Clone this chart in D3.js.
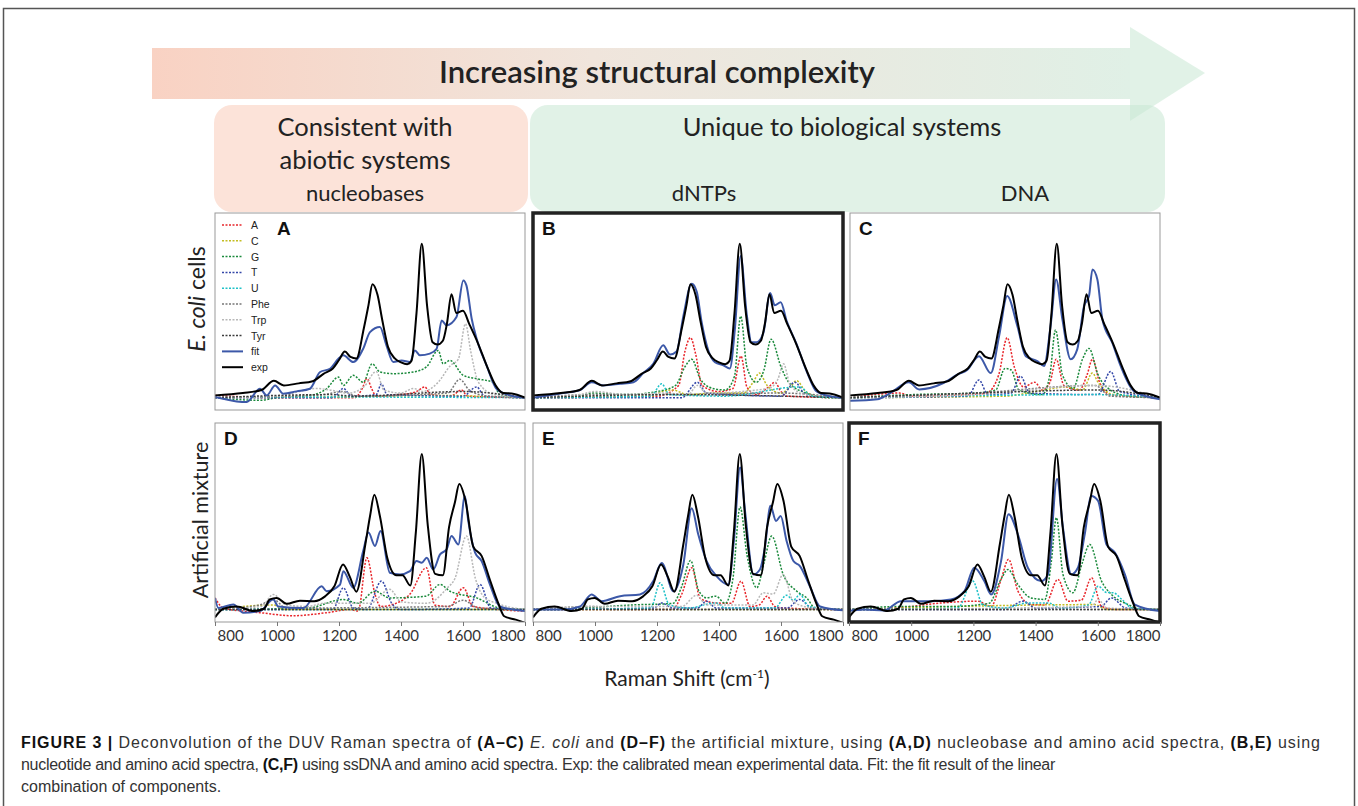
<!DOCTYPE html>
<html>
<head>
<meta charset="utf-8">
<script src="https://cdnjs.cloudflare.com/ajax/libs/d3/7.8.5/d3.min.js"></script>
<style>
  body { margin: 0; background: #fff; }
  svg { display: block; }
</style>
</head>
<body>
<div id="chart"></div>
<script>
// Raman shift ticks and component names
var shiftTicks = [800, 1000, 1200, 1400, 1600, 1800];
var components = ["A", "C", "G", "T", "U", "Phe", "Trp", "Tyr"];
var compColors = ["#e8262b", "#c4bd22", "#1b8a3c", "#3447a8", "#1fc1c8", "#777777", "#b8b8b8", "#3d3d3d"];

// experimental spectra (same data in each row)
var expEcoli = [[800,.015],[890,.03],[950,.05],[990,.11],[1022,.08],[1070,.093],[1115,.107],[1150,.155],[1180,.19],[1200,.245],[1219,.30],[1237,.265],[1256,.255],[1280,.45],[1295,.6],[1308,.737],[1324,.67],[1340,.5],[1358,.33],[1380,.255],[1400,.23],[1420,.218],[1434,.24],[1450,.55],[1467,1.0],[1484,.6],[1502,.36],[1518,.345],[1535,.37],[1548,.48],[1563,.672],[1578,.55],[1600,.565],[1620,.48],[1648,.355],[1680,.19],[1705,.08],[1730,.03],[1757,.028],[1800,0]];
var expMixture = [[800,-.05],[827,.005],[870,.02],[924,-.01],[958,.005],[977,.065],[999,.075],[1031,.037],[1074,.057],[1120,.054],[1155,.085],[1185,.15],[1213,.29],[1235,.21],[1256,.115],[1285,.42],[1300,.6],[1314,.738],[1332,.6],[1356,.33],[1385,.22],[1405,.22],[1430,.155],[1448,.5],[1467,1.0],[1486,.55],[1510,.23],[1535,.22],[1555,.53],[1574,.69],[1588,.808],[1608,.7],[1633,.405],[1660,.345],[1687,.19],[1714,.04],[1733,-.043],[1770,-.065],[1800,-.085]];

// fit results
var fitA = [[800,.004],[870,-.024],[902,-.028],[945,.058],[967,.015],[994,.08],[1020,.026],[1063,.041],[1106,.058],[1139,.167],[1171,.188],[1198,.253],[1214,.275],[1246,.232],[1278,.318],[1300,.426],[1332,.459],[1353,.34],[1375,.232],[1402,.242],[1429,.232],[1445,.307],[1461,.275],[1493,.286],[1515,.318],[1531,.502],[1547,.47],[1579,.524],[1601,.762],[1611,.73],[1628,.513],[1644,.383],[1676,.21],[1708,.058],[1751,.015],[1800,0]];
var fitB = [[800,0],[898,.03],[952,.05],[989,.1],[1027,.08],[1081,.09],[1124,.1],[1156,.16],[1188,.22],[1220,.34],[1242,.28],[1263,.3],[1285,.53],[1312,.74],[1328,.69],[1344,.49],[1365,.31],[1387,.23],[1414,.21],[1435,.19],[1451,.44],[1470,.92],[1489,.55],[1505,.36],[1521,.36],[1543,.42],[1565,.68],[1580,.6],[1599,.62],[1618,.5],[1650,.35],[1683,.17],[1715,.04],[1758,.01],[1796,0]];
var fitC = [[800,-.02],[888,-.01],[931,.032],[990,.1],[1023,.054],[1103,.097],[1146,.15],[1178,.18],[1216,.27],[1254,.16],[1281,.4],[1307,.66],[1340,.465],[1367,.27],[1404,.238],[1426,.206],[1447,.465],[1465,.768],[1485,.51],[1512,.25],[1533,.314],[1555,.595],[1571,.66],[1582,.833],[1598,.768],[1614,.51],[1646,.357],[1673,.206],[1716,.043],[1800,-.01]];
var fitD = [[800,.075],[811,.01],[859,.032],[891,-.02],[945,-.01],[988,.065],[1004,.02],[1085,.01],[1144,.15],[1160,.118],[1203,.16],[1214,.247],[1246,.14],[1278,.376],[1295,.495],[1316,.409],[1334,.505],[1364,.237],[1397,.226],[1429,.247],[1450,.312],[1467,.301],[1483,.333],[1504,.258],[1526,.355],[1547,.387],[1563,.473],[1585,.419],[1606,.731],[1617,.57],[1639,.366],[1660,.312],[1687,.161],[1719,.02],[1800,-.01]];
var fitE = [[800,0],[898,0],[952,.02],[989,.097],[1021,.054],[1081,.086],[1145,.097],[1188,.183],[1215,.3],[1253,.118],[1285,.29],[1312,.652],[1333,.484],[1360,.312],[1392,.215],[1430,.161],[1448,.441],[1468,.914],[1484,.634],[1511,.226],[1532,.258],[1548,.398],[1566,.667],[1584,.57],[1599,.602],[1618,.441],[1640,.312],[1661,.28],[1693,.15],[1726,.02],[1800,-.005]];
var fitF = [[800,-.01],[848,0],[913,-.006],[967,.054],[999,.054],[1063,.054],[1128,.065],[1171,.118],[1203,.269],[1235,.183],[1257,.097],[1289,.312],[1313,.613],[1343,.484],[1375,.269],[1418,.183],[1440,.226],[1469,.839],[1488,.527],[1515,.226],[1536,.269],[1558,.484],[1579,.731],[1601,.699],[1628,.419],[1655,.366],[1687,.226],[1719,.032],[1800,-.01]];

// fitted components per panel
var compA = {
  A: [[800,.015],[1000,0],[1250,0],[1275,.06],[1290,.125],[1305,.06],[1320,.01],[1400,.02],[1450,.04],[1477,.07],[1495,.02],[1560,.01],[1595,.05],[1615,.01],[1800,0]],
  C: [[800,0],[1200,.005],[1530,.015],[1640,.01],[1800,0]],
  G: [[800,0],[945,-.017],[1000,0],[1106,.015],[1160,.058],[1198,.134],[1214,.08],[1246,.145],[1278,.10],[1307,.22],[1332,.167],[1375,.156],[1440,.167],[1482,.2],[1520,.307],[1536,.22],[1558,.242],[1601,.145],[1644,.123],[1698,.10],[1719,.015],[1800,0]],
  T: [[800,0],[1180,0],[1214,.06],[1240,.01],[1320,.02],[1337,.09],[1355,.02],[1600,.01],[1644,.07],[1670,.01],[1800,0]],
  U: [[800,0],[1000,.005],[1800,0]],
  Phe: [[800,0],[1150,.02],[1210,.04],[1260,.01],[1550,.03],[1590,.12],[1620,.05],[1680,.01],[1800,0]],
  Trp: [[800,0],[1000,.01],[1130,.06],[1170,.05],[1230,.03],[1280,.07],[1320,.17],[1345,.05],[1400,.03],[1440,.06],[1470,.04],[1520,.1],[1560,.21],[1585,.25],[1608,.48],[1625,.3],[1650,.1],[1700,.02],[1800,0]],
  Tyr: [[800,0],[1170,.02],[1250,.01],[1600,.04],[1800,0]]
};
var compB = {
  A: [[800,0],[1200,.01],[1270,.08],[1290,.3],[1308,.39],[1325,.28],[1345,.08],[1400,.04],[1445,.06],[1471,.27],[1490,.07],[1520,.02],[1560,.07],[1580,.1],[1600,.04],[1620,.01],[1800,0]],
  C: [[800,0],[1180,.01],[1215,.04],[1250,.05],[1300,.02],[1380,.03],[1480,.03],[1510,.1],[1530,.16],[1555,.08],[1600,.03],[1630,.07],[1650,.11],[1680,.04],[1720,.01],[1800,0]],
  G: [[800,0],[950,.01],[990,.03],[1100,.02],[1200,.04],[1260,.08],[1290,.2],[1312,.25],[1340,.12],[1380,.06],[1420,.05],[1450,.14],[1470,.53],[1490,.2],[1520,.1],[1545,.18],[1568,.38],[1600,.2],[1625,.1],[1680,.03],[1750,0],[1800,0]],
  T: [[800,0],[1280,0],[1330,.1],[1360,.03],[1600,.01],[1645,.1],[1680,.02],[1800,0]],
  U: [[800,0],[1180,.01],[1215,.09],[1240,.02],[1420,.01],[1660,.07],[1700,.01],[1800,0]],
  Phe: [[800,0],[1000,.02],[1200,.02],[1600,.03],[1800,0]],
  Trp: [[800,0],[950,.02],[1000,.04],[1100,.02],[1220,.03],[1300,.02],[1330,.08],[1360,.03],[1560,.06],[1590,.12],[1608,.22],[1630,.08],[1680,.02],[1800,0]],
  Tyr: [[800,0],[1250,.02],[1800,0]]
};
var compC = {
  A: [[800,0],[960,.03],[1000,.01],[1180,.02],[1240,.03],[1280,.15],[1307,.39],[1330,.2],[1360,.07],[1396,.1],[1420,.05],[1445,.1],[1465,.25],[1490,.08],[1540,.05],[1565,.15],[1582,.25],[1605,.1],[1640,.02],[1800,0]],
  C: [[800,0],[1300,.01],[1400,.04],[1500,.07],[1550,.05],[1582,.16],[1600,.1],[1650,.02],[1800,0]],
  G: [[800,0],[1000,.02],[1200,.03],[1270,.05],[1300,.19],[1320,.18],[1345,.05],[1420,.02],[1445,.15],[1463,.44],[1485,.15],[1520,.06],[1550,.25],[1571,.32],[1600,.15],[1640,.05],[1700,.01],[1800,0]],
  T: [[800,0],[1180,.01],[1216,.115],[1245,.02],[1320,.03],[1350,.14],[1380,.03],[1600,.02],[1641,.17],[1670,.04],[1800,0]],
  U: [[800,0],[1600,.02],[1800,0]],
  Phe: [[800,0],[1200,.03],[1590,.08],[1640,.01],[1800,0]],
  Trp: [[800,0],[1200,.02],[1592,.08],[1800,0]],
  Tyr: [[800,0],[1210,.03],[1600,.05],[1800,0]]
};
var compD = {
  A: [[800,.075],[827,.01],[891,-.01],[945,-.02],[1052,-.04],[1160,-.02],[1235,0],[1262,-.01],[1290,.333],[1316,.1],[1334,.02],[1387,.043],[1429,.1],[1482,.269],[1509,.03],[1558,.02],[1601,.14],[1633,.02],[1800,-.01]],
  C: [[800,0],[990,.03],[1020,0],[1800,0]],
  G: [[800,0],[1100,.01],[1214,.065],[1260,.04],[1316,.118],[1364,.075],[1480,.086],[1526,.161],[1558,.118],[1644,.075],[1719,.01],[1800,0]],
  T: [[800,0],[1180,0],[1214,.14],[1246,.01],[1290,0],[1337,.183],[1370,.04],[1400,0],[1620,.01],[1655,.161],[1690,.01],[1800,0]],
  U: [[800,0],[1800,0]],
  Phe: [[800,0],[945,.03],[988,.065],[1030,.01],[1550,.02],[1600,.06],[1650,.01],[1800,0]],
  Trp: [[800,0],[950,.02],[988,.097],[1030,.03],[1100,.02],[1150,.04],[1300,.04],[1364,.13],[1400,.05],[1482,.04],[1550,.14],[1574,.2],[1611,.473],[1640,.2],[1668,.08],[1709,.04],[1800,0]],
  Tyr: [[800,0],[1800,0]]
};
var compE = {
  A: [[800,0],[1250,0],[1280,.1],[1312,.269],[1340,.07],[1390,.043],[1440,.04],[1471,.183],[1500,.02],[1530,.03],[1555,.086],[1580,.02],[1610,.01],[1800,0]],
  C: [[800,0],[1800,0]],
  G: [[800,0],[952,.01],[1124,.03],[1252,.04],[1280,.15],[1308,.316],[1335,.12],[1360,.075],[1390,.086],[1420,.04],[1445,.2],[1468,.66],[1490,.355],[1522,.14],[1545,.3],[1570,.473],[1607,.226],[1651,.118],[1683,.075],[1710,.01],[1800,0]],
  T: [[800,0],[1190,.01],[1215,.043],[1250,.01],[1330,.01],[1360,.054],[1390,.01],[1620,.01],[1660,.065],[1700,.01],[1800,0]],
  U: [[800,0],[1180,.01],[1210,.172],[1240,.03],[1300,.01],[1392,.043],[1420,.01],[1580,.01],[1618,.092],[1640,.06],[1661,.097],[1690,.02],[1800,0]],
  Phe: [[800,0],[1000,.02],[1050,0],[1800,0]],
  Trp: [[800,0],[1000,.02],[1280,.02],[1328,.092],[1360,.03],[1510,.03],[1543,.108],[1575,.1],[1607,.226],[1640,.05],[1700,.01],[1800,0]],
  Tyr: [[800,0],[1800,0]]
};
var compF = {
  A: [[800,0],[950,.01],[1100,.043],[1214,.054],[1257,.02],[1290,.2],[1313,.323],[1343,.12],[1386,.032],[1430,.03],[1472,.194],[1504,.054],[1547,.06],[1580,.204],[1612,.02],[1660,0],[1800,0]],
  C: [[800,0],[1590,.032],[1630,0],[1800,0]],
  G: [[800,0],[970,.02],[1130,.02],[1250,.04],[1290,.2],[1311,.258],[1343,.161],[1385,.075],[1430,.065],[1450,.3],[1467,.591],[1488,.226],[1520,.108],[1550,.3],[1574,.419],[1612,.183],[1644,.097],[1698,.032],[1740,0],[1800,0]],
  T: [[800,0],[1300,0],[1360,.054],[1400,.01],[1610,.02],[1644,.075],[1690,.01],[1800,0]],
  U: [[800,0],[1150,.01],[1198,.183],[1230,.03],[1300,.01],[1375,.043],[1440,.043],[1480,.01],[1570,.03],[1601,.15],[1628,.11],[1650,.108],[1680,.06],[1710,.01],[1800,0]],
  Phe: [[800,0],[1800,0]],
  Trp: [[800,0],[1580,.02],[1601,.065],[1630,.01],[1800,0]],
  Tyr: [[800,0],[1800,0]]
};

var panels = [
  {id: "A", x0: 215, x1: 525, y0: 213, y1: 410, exp: expEcoli, fit: fitA, comps: compA, thick: false, legend: true},
  {id: "B", x0: 533, x1: 843, y0: 213, y1: 410, exp: expEcoli, fit: fitB, comps: compB, thick: true},
  {id: "C", x0: 850, x1: 1160, y0: 213, y1: 410, exp: expEcoli, fit: fitC, comps: compC, thick: false},
  {id: "D", x0: 215, x1: 525, y0: 423, y1: 622, exp: expMixture, fit: fitD, comps: compD, thick: false, axis: true},
  {id: "E", x0: 533, x1: 843, y0: 423, y1: 622, exp: expMixture, fit: fitE, comps: compE, thick: false, axis: true},
  {id: "F", x0: 849, x1: 1160, y0: 423, y1: 622, exp: expMixture, fit: fitF, comps: compF, thick: true, axis: true}
];

var headFont = "Lato, 'Open Sans', sans-serif";
var svg = d3.select("#chart").append("svg")
    .attr("width", 1358)
    .attr("height", 806);

svg.append("rect").attr("width", 1358).attr("height", 806).attr("fill", "#fff");

// outer frame
svg.append("rect")
    .attr("x", 3.5).attr("y", 8.5)
    .attr("width", 1351).attr("height", 830)
    .attr("fill", "none").attr("stroke", "#555").attr("stroke-width", 1.5);

var defs = svg.append("defs");
var grad = defs.append("linearGradient").attr("id", "arrowGrad")
    .attr("x1", "0%").attr("x2", "100%").attr("y1", "0%").attr("y2", "0%");
grad.append("stop").attr("offset", "0%").attr("stop-color", "#f9d2c3");
grad.append("stop").attr("offset", "45%").attr("stop-color", "#f0e5dc");
grad.append("stop").attr("offset", "100%").attr("stop-color", "#e0f0e6");

// arrow
svg.append("rect")
    .attr("x", 152).attr("y", 48).attr("width", 978).attr("height", 51)
    .attr("fill", "url(#arrowGrad)");
svg.append("path")
    .attr("d", "M1130,27L1205,73L1130,121Z")
    .attr("fill", "#c9e7d4").attr("fill-opacity", 0.55);

// category boxes
svg.append("rect")
    .attr("x", 214).attr("y", 105).attr("width", 314).attr("height", 107).attr("rx", 18)
    .attr("fill", "#fce3d9");
svg.append("rect")
    .attr("x", 530).attr("y", 105).attr("width", 635).attr("height", 107).attr("rx", 18)
    .attr("fill", "#c9e7d4").attr("fill-opacity", 0.55);

svg.append("text")
    .attr("x", 657).attr("y", 83)
    .attr("text-anchor", "middle")
    .style("font-family", headFont).style("font-size", "31px").style("font-weight", 600)
    .attr("fill", "#222")
    .text("Increasing structural complexity");

var heads = [
  {t: "Consistent with", x: 365, y: 136, s: 25.5},
  {t: "abiotic systems", x: 365, y: 169, s: 25.5},
  {t: "nucleobases", x: 365, y: 201, s: 22},
  {t: "Unique to biological systems", x: 842, y: 136, s: 25.5},
  {t: "dNTPs", x: 704, y: 201, s: 22},
  {t: "DNA", x: 1025, y: 201, s: 22}
];
svg.selectAll(".head").data(heads).enter().append("text")
    .attr("class", "head")
    .attr("x", function (d) { return d.x; })
    .attr("y", function (d) { return d.y; })
    .attr("text-anchor", "middle")
    .style("font-family", headFont)
    .style("font-size", function (d) { return d.s + "px"; })
    .attr("fill", "#222")
    .text(function (d) { return d.t; });

// row labels
var rl1 = svg.append("text")
    .attr("transform", "translate(205,299) rotate(-90)")
    .attr("text-anchor", "middle")
    .style("font-family", headFont).style("font-size", "23px").attr("fill", "#222");
rl1.append("tspan").style("font-style", "italic").text("E. coli");
rl1.append("tspan").text(" cells");
svg.append("text")
    .attr("transform", "translate(208,520) rotate(-90)")
    .attr("text-anchor", "middle")
    .style("font-family", headFont).style("font-size", "21.5px").attr("fill", "#222")
    .text("Artificial mixture");

var compLine = d3.line().curve(d3.curveMonotoneX);

panels.forEach(function (p) {
    var x = d3.scaleLinear().domain([800, 1800]).range([p.x0, p.x1]);
    var y = d3.scaleLinear().domain([-0.08, 1.2]).range([p.y1, p.y0]);
    compLine.x(function (d) { return x(d[0]); }).y(function (d) { return y(d[1]); });

    defs.append("clipPath").attr("id", "clip" + p.id)
        .append("rect")
        .attr("x", p.x0).attr("y", p.y0)
        .attr("width", p.x1 - p.x0).attr("height", p.y1 - p.y0);

    var g = svg.append("g");
    g.append("rect")
        .attr("x", p.x0).attr("y", p.y0)
        .attr("width", p.x1 - p.x0).attr("height", p.y1 - p.y0)
        .attr("fill", "#fff");

    var plot = g.append("g").attr("clip-path", "url(#clip" + p.id + ")");
    components.forEach(function (c, i) {
        plot.append("path")
            .attr("d", compLine(p.comps[c]))
            .attr("fill", "none")
            .attr("stroke", compColors[i])
            .attr("stroke-width", 1.5)
            .attr("stroke-dasharray", "2,1.5");
    });
    plot.append("path")
        .attr("d", compLine(p.fit))
        .attr("fill", "none").attr("stroke", "#3c58a8").attr("stroke-width", 2);
    plot.append("path")
        .attr("d", compLine(p.exp))
        .attr("fill", "none").attr("stroke", "#000").attr("stroke-width", 2);

    g.append("rect")
        .attr("x", p.x0).attr("y", p.y0)
        .attr("width", p.x1 - p.x0).attr("height", p.y1 - p.y0)
        .attr("fill", "none")
        .attr("stroke", p.thick ? "#222" : "#999")
        .attr("stroke-width", p.thick ? 3.5 : 1);

    g.append("text")
        .attr("x", p.id == "A" ? p.x0 + 62 : p.x0 + 9)
        .attr("y", p.y0 + 22)
        .style("font-family", "'Liberation Sans', Arial, sans-serif")
        .style("font-size", "19px").style("font-weight", "bold")
        .attr("fill", "#111")
        .text(p.id);

    if (p.axis) {
        var ax = g.append("g")
            .attr("transform", "translate(0," + p.y1 + ")")
            .call(d3.axisBottom(x).tickValues(shiftTicks).tickFormat(d3.format("d")).tickSize(4).tickPadding(4));
        ax.select(".domain").remove();
        ax.selectAll("line").attr("stroke", "#777");
        ax.selectAll("text")
            .style("font-family", headFont).style("font-size", "15px").attr("fill", "#333")
            .attr("text-anchor", function (d) { return d == 800 ? "start" : (d == 1800 ? "end" : "middle"); })
            .attr("x", function (d) { return d == 800 ? 2 : 0; });
    }

    if (p.legend) {
        var names = components.concat(["fit", "exp"]);
        var lg = g.selectAll(".leg").data(names).enter().append("g")
            .attr("transform", function (d, i) { return "translate(" + (p.x0 + 7) + "," + (p.y0 + 12 + i * 15.8) + ")"; });
        lg.append("line")
            .attr("x1", 0).attr("x2", 21)
            .attr("stroke", function (d, i) { return i < 8 ? compColors[i] : (d == "fit" ? "#3c58a8" : "#000"); })
            .attr("stroke-width", function (d, i) { return i < 8 ? 1.5 : 2; })
            .attr("stroke-dasharray", function (d, i) { return i < 8 ? "2,1.5" : null; });
        lg.append("text")
            .attr("x", 29).attr("y", 4)
            .style("font-family", "'Liberation Sans', Arial, sans-serif")
            .style("font-size", "10.5px").attr("fill", "#222")
            .text(function (d) { return d; });
    }
});

svg.append("text")
    .attr("x", 687).attr("y", 686)
    .attr("text-anchor", "middle")
    .style("font-family", headFont).style("font-size", "21px").attr("fill", "#222")
    .text("Raman Shift (cm")
    .append("tspan").attr("dy", -8).style("font-size", "12px").text("-1")
    .select(function () { return this.parentNode; })
    .append("tspan").attr("dy", 8).text(")");

// caption
var capLines = [
  {y: 748, len: 1300, parts: [["FIGURE 3 | ", "b"], ["Deconvolution of the DUV Raman spectra of ", ""], ["(A–C)", "b"], [" ", ""], ["E. coli", "i"], [" and ", ""], ["(D–F)", "b"], [" the artificial mixture, using ", ""], ["(A,D)", "b"], [" nucleobase and amino acid spectra, ", ""], ["(B,E)", "b"], [" using", ""]]},
  {y: 770, len: 1034, parts: [["nucleotide and amino acid spectra, ", ""], ["(C,F)", "b"], [" using ssDNA and amino acid spectra. Exp: the calibrated mean experimental data. Fit: the fit result of the linear", ""]]},
  {y: 792, len: 0, parts: [["combination of components.", ""]]}
];
capLines.forEach(function (l) {
    var t = svg.append("text")
        .attr("x", 21).attr("y", l.y)
        .style("font-family", "'Liberation Sans', Arial, sans-serif")
        .style("font-size", "16px").attr("fill", "#333");
    l.parts.forEach(function (pt) {
        t.append("tspan")
            .style("font-weight", pt[1] == "b" ? "bold" : null)
            .style("font-style", pt[1] == "i" ? "italic" : null)
            .attr("fill", pt[1] == "b" ? "#111" : null)
            .text(pt[0]);
    });
    // adjust the letter spacing so the line ends where the printed one does
    if (l.len) {
        var w = t.node().getComputedTextLength();
        var n = t.text().length;
        t.style("letter-spacing", ((l.len - w) / n).toFixed(3) + "px");
    }
});
</script>
</body>
</html>
